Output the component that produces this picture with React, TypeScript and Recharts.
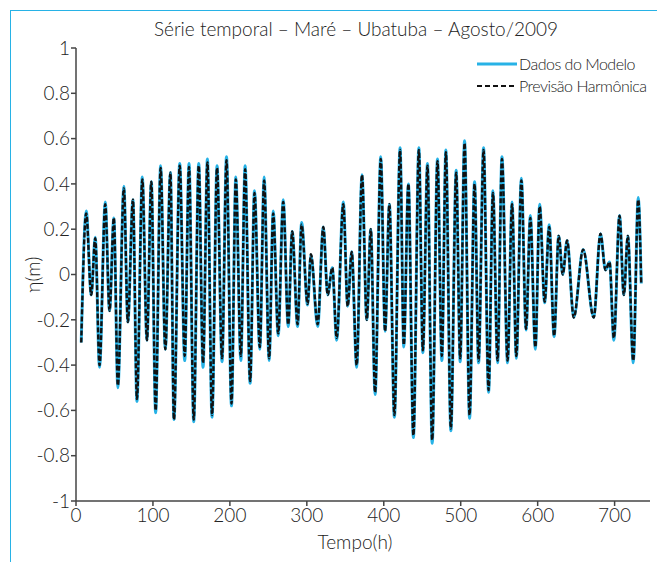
import React from 'react';
import { LineChart, Line, XAxis, YAxis, Legend } from 'recharts';

// Hours (h) of each high / low water
const hours = [
  6.8, 13.3, 19.8, 25.0, 30.6, 38.0, 43.6, 49.2, 54.4, 62.2,
  67.4, 74.0, 79.2, 86.2, 92.2, 97.9, 103.5, 110.0, 116.1, 122.7,
  127.3, 134.8, 141.3, 146.9, 153.0, 159.5, 165.1, 170.8, 176.8, 183.3,
  189.8, 195.6, 202.1, 207.7, 214.2, 219.8, 226.3, 232.0, 238.9, 244.5,
  251.0, 256.3, 262.8, 269.3, 275.8, 281.0, 288.0, 293.2, 301.0, 305.3,
  314.1, 321.4, 327.1, 333.1, 338.8, 347.4, 353.1, 358.3, 364.8, 371.7,
  377.9, 383.1, 388.7, 396.1, 401.7, 407.3, 413.8, 421.2, 426.0, 432.0,
  438.5, 445.6, 450.8, 456.8, 462.9, 469.8, 475.5, 480.7, 487.2, 494.1,
  499.3, 505.0, 511.5, 518.0, 523.2, 529.7, 536.2, 541.9, 547.9, 553.6,
  560.9, 566.7, 572.3, 578.8, 584.9, 590.5, 597.0, 602.6, 609.1, 615.0,
  621.4, 627.3, 632.6, 638.3, 646.9, 659.1, 672.9, 681.6, 688.2, 693.4,
  699.0, 706.4, 712.0, 717.2, 724.2, 730.7, 734.6,
];

// Dados do Modelo (m)
const modelo = [
  -0.30, 0.28, -0.09, 0.165, -0.41, 0.32, -0.16, 0.25, -0.50, 0.39,
  -0.21, 0.33, -0.56, 0.43, -0.29, 0.41, -0.61, 0.48, -0.33, 0.45,
  -0.64, 0.49, -0.38, 0.49, -0.65, 0.49, -0.41, 0.51, -0.63, 0.48,
  -0.385, 0.52, -0.58, 0.43, -0.38, 0.48, -0.48, 0.37, -0.33, 0.43,
  -0.38, 0.28, -0.27, 0.33, -0.23, 0.19, -0.23, 0.23, -0.135, 0.086,
  -0.23, 0.21, -0.09, 0.03, -0.29, 0.32, -0.14, 0.10, -0.41, 0.44,
  -0.20, 0.20, -0.53, 0.52, -0.25, 0.31, -0.63, 0.56, -0.32, 0.40,
  -0.72, 0.56, -0.345, 0.49, -0.745, 0.51, -0.38, 0.55, -0.69, 0.46,
  -0.385, 0.59, -0.635, 0.41, -0.39, 0.56, -0.52, 0.37, -0.39, 0.52,
  -0.39, 0.32, -0.37, 0.425, -0.245, 0.26, -0.33, 0.31, -0.125, 0.22,
  -0.275, 0.17, 0.0, 0.15, -0.19, 0.11, -0.19, 0.18, 0.02, 0.055,
  -0.29, 0.26, -0.09, 0.17, -0.39, 0.34, -0.04,
];

// Previsão Harmônica (m)
const harmonica = [
  -0.30, 0.27, -0.09, 0.16, -0.40, 0.31, -0.16, 0.25, -0.49, 0.38,
  -0.21, 0.33, -0.55, 0.42, -0.29, 0.41, -0.60, 0.47, -0.33, 0.45,
  -0.64, 0.48, -0.36, 0.475, -0.64, 0.48, -0.39, 0.495, -0.62, 0.47,
  -0.37, 0.505, -0.57, 0.42, -0.36, 0.465, -0.47, 0.36, -0.32, 0.415,
  -0.37, 0.27, -0.26, 0.32, -0.22, 0.19, -0.22, 0.22, -0.13, 0.09,
  -0.22, 0.21, -0.09, 0.03, -0.28, 0.31, -0.14, 0.10, -0.40, 0.44,
  -0.20, 0.20, -0.52, 0.51, -0.25, 0.31, -0.62, 0.55, -0.31, 0.40,
  -0.71, 0.55, -0.335, 0.48, -0.73, 0.50, -0.36, 0.54, -0.68, 0.45,
  -0.37, 0.58, -0.62, 0.40, -0.38, 0.55, -0.51, 0.36, -0.38, 0.51,
  -0.38, 0.31, -0.36, 0.415, -0.24, 0.25, -0.32, 0.30, -0.12, 0.21,
  -0.27, 0.17, 0.0, 0.15, -0.19, 0.11, -0.19, 0.18, 0.02, 0.055,
  -0.28, 0.26, -0.09, 0.17, -0.38, 0.33, -0.04,
];

const xTicks = [0, 100, 200, 300, 400, 500, 600, 700];
const yTicks = [-1, -0.8, -0.6, -0.4, -0.2, 0, 0.2, 0.4, 0.6, 0.8, 1];

const title = 'Série temporal – Maré – Ubatuba – Agosto/2009';
const seriesNames = ['Dados do Modelo', 'Previsão Harmônica'];

const data = hours.map((h, i) => ({ t: h, modelo: modelo[i], harmonica: harmonica[i] }));

const BLUE = '#27b2e6';
const FONT = 'Lato, "Open Sans", sans-serif';
const TEXT = '#222222';

const renderLegend = () => (
  <div style={{ fontFamily: FONT, fontWeight: 300, fontSize: 16, color: TEXT, lineHeight: '22px', letterSpacing: -0.5, whiteSpace: 'nowrap' }}>
    <div style={{ display: 'flex', alignItems: 'center' }}>
      <svg width={42} height={10}>
        <line x1={0} y1={5} x2={40} y2={5} stroke={BLUE} strokeWidth={3} />
      </svg>
      <span>{seriesNames[0]}</span>
    </div>
    <div style={{ display: 'flex', alignItems: 'center' }}>
      <svg width={42} height={10}>
        <line x1={0} y1={5} x2={40} y2={5} stroke="#111" strokeWidth={2} strokeDasharray="5 3" />
      </svg>
      <span>{seriesNames[1]}</span>
    </div>
  </div>
);

const fmtY = (v: number) => {
  const r = Math.round(v * 10) / 10;
  return String(r);
};

const tickStyle = { fill: TEXT, fontSize: 19, fontFamily: FONT, fontWeight: 300 };

export default function App() {
  return (
    <div style={{ position: 'absolute', left: 0, top: 0, width: 657, height: 562, background: '#fff', overflow: 'hidden' }}>
      <div
        style={{
          position: 'absolute', left: 10, top: 10, width: 700, height: 600,
          borderLeft: `1.5px solid ${BLUE}`, borderTop: `1.5px solid ${BLUE}`,
        }}
      />
      <div
        style={{
          position: 'absolute', left: 56, width: 600, top: 17, textAlign: 'center',
          fontFamily: FONT, fontSize: 19, color: TEXT, fontWeight: 300,
        }}
      >
        {title}
      </div>
      <LineChart
        width={657}
        height={562}
        data={data}
        margin={{ top: 48, right: 7, bottom: 31, left: 16 }}
        style={{ position: 'absolute', left: 0, top: 0 }}
      >
        <XAxis
          dataKey="t"
          type="number"
          domain={[0, 746]}
          ticks={xTicks}
          allowDataOverflow
          height={30}
          stroke="#444"
          strokeWidth={1.5}
          tickSize={5}
          tickMargin={3}
          tick={tickStyle}
          label={{ value: 'Tempo(h)', position: 'bottom', offset: 5, dx: -8, fill: TEXT, fontSize: 19, fontFamily: FONT, fontWeight: 300 }}
        />
        <YAxis
          type="number"
          domain={[-1, 1]}
          ticks={yTicks}
          width={60}
          interval={0}
          allowDataOverflow
          stroke="#444"
          strokeWidth={1.5}
          tickSize={5}
          tickMargin={1}
          tickFormatter={fmtY}
          tick={tickStyle}
          label={{ value: 'η(m)', angle: -90, position: 'center', dx: -13, fill: TEXT, fontSize: 19, fontFamily: FONT, fontWeight: 300 }}
        />
        <Legend
          layout="horizontal"
          verticalAlign="middle"
          align="center"
          content={renderLegend}
          wrapperStyle={{ top: 53, left: 477, width: 190, height: 46 }}
        />
        <Line
          type="monotone"
          dataKey="modelo"
          name={seriesNames[0]}
          stroke={BLUE}
          strokeWidth={3}
          dot={false}
          isAnimationActive={false}
        />
        <Line
          type="monotone"
          dataKey="harmonica"
          name={seriesNames[1]}
          stroke="#111"
          strokeWidth={2.4}
          strokeDasharray="5 2"
          dot={false}
          isAnimationActive={false}
        />
      </LineChart>
    </div>
  );
}
